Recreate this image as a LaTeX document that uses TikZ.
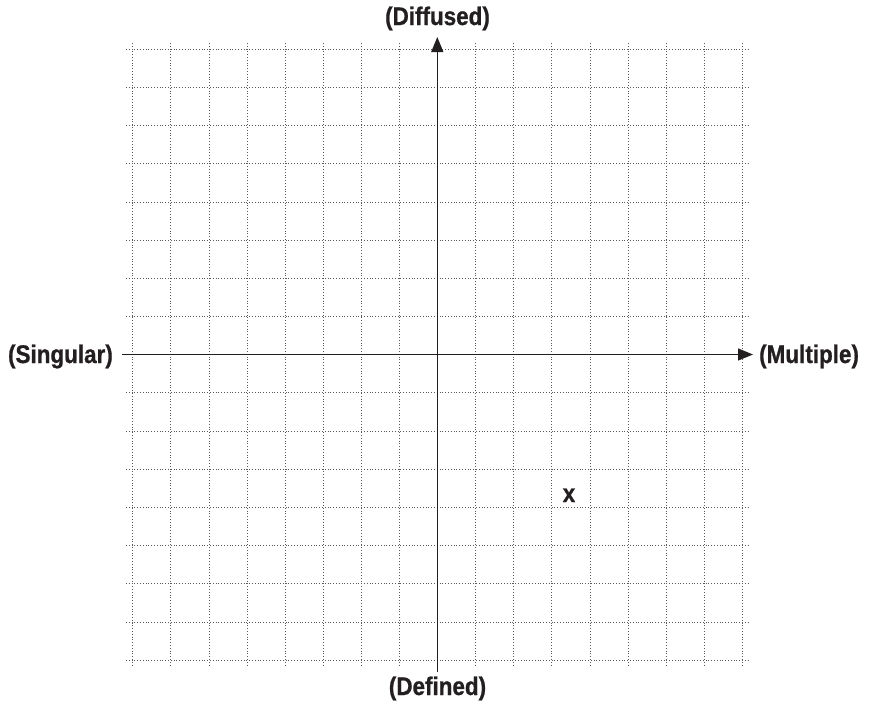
\documentclass[tikz,border=0pt]{standalone}
\usepackage{fontspec}
\setmainfont[FakeStretch=0.88]{Liberation Sans}
\usetikzlibrary{arrows.meta}
\definecolor{ink}{HTML}{231F20}
\begin{document}
\begin{tikzpicture}[x=1pt,y=-1pt,
  gridline/.style={draw=black!65, line width=0.7pt, dash pattern=on 0.7pt off 2.1pt},
  axisline/.style={draw=ink, line width=1.3pt, -{Triangle[length=15pt,width=12pt]}},
  lbl/.style={font=\addfontfeatures{FakeBold=0.8}\bfseries\fontsize{25.5}{28}\selectfont, text=ink, inner sep=0pt, anchor=base}]
\useasboundingbox (0,0) rectangle (870,704);
% grid
\foreach \i in {0,...,16} {
  \draw[gridline] ({132.7+38.1*\i},43) -- ({132.7+38.1*\i},667);
  \draw[gridline] (126,{49.3+38.17*\i}) -- (749,{49.3+38.17*\i});
}
% axes
\coordinate (yb) at (437.3,672);
\coordinate (yt) at (437.3,37);
\coordinate (xl) at (122,354.5);
\coordinate (xr) at (753,354.5);
\draw[axisline] (yb) -- (yt);
\draw[axisline] (xl) -- (xr);
% labels
\node[lbl] (diff) at (437.5,25) {(Diffused)};
\node[lbl] (def) at (437.5,695) {(Defined)};
\node[lbl, anchor=base east] (sing) at (113,363) {(Singular)};
\node[lbl, anchor=base west] (mult) at (759,363) {(Multiple)};
\node[lbl] (mark) at (569,502) {x};
\end{tikzpicture}
\end{document}
